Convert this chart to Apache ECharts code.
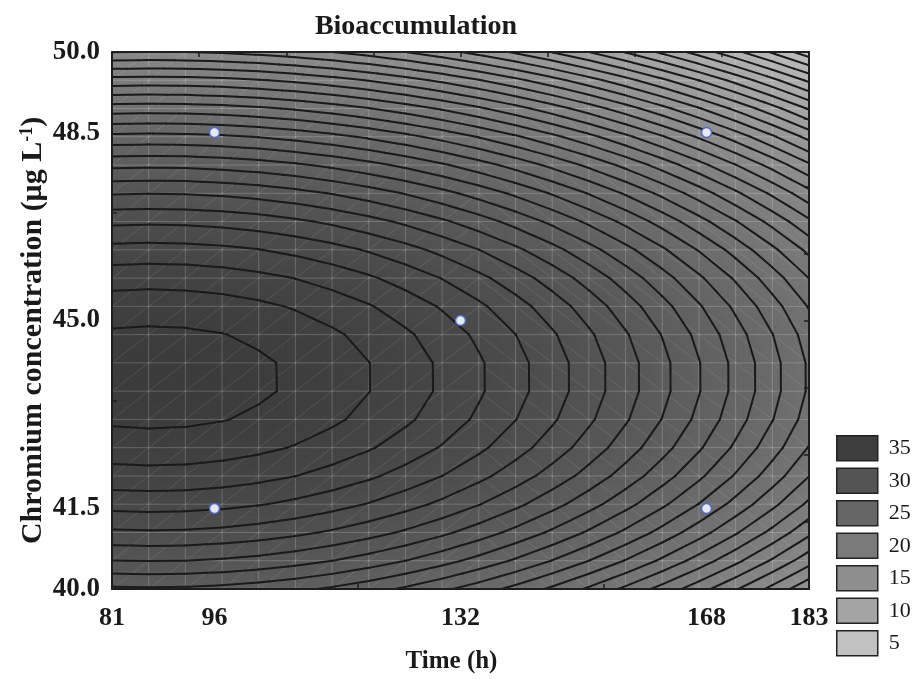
<!DOCTYPE html>
<html><head><meta charset="utf-8">
<script src="https://cdn.jsdelivr.net/npm/echarts@6/dist/echarts.min.js"></script>
<style>html,body{margin:0;padding:0;background:#fff}#chart{width:914px;height:679px}</style>
</head><body><div id="chart"></div>
<script>
// ---- data ----
const timeRange = [81, 183];
const concRange = [40, 50];
const xTickValues = [81, 96, 132, 168, 183];
const yTickValues = [40.0, 41.5, 45.0, 48.5, 50.0];
const xMinorStep = 36, yMinorStep = 3.5;
const designTime = [96, 96, 132, 168, 168];
const designConc = [41.5, 48.5, 45.0, 41.5, 48.5];
const legendLevels = ['35', '30', '25', '20', '15', '10', '5'];
const legendColors = ['#3e3e3e', '#545454', '#666666', '#7a7a7a', '#8e8e8e', '#a4a4a4', '#c2c2c2'];
// Fitted response surface: peak [time, conc, value]
// and squared distance (per axis) for one unit drop of the response.
const surfacePeak = [86.85, 43.94, 38.54];
const surfaceSpread = [677.9, 1.79];
const contourStep = 1;
const meshDivisions = 19;

function surface(t, c) {
  return surfacePeak[2] - (t - surfacePeak[0]) ** 2 / surfaceSpread[0] - (c - surfacePeak[1]) ** 2 / surfaceSpread[1];
}
function grayFor(z) {
  const g = Math.max(30, Math.min(225, Math.round(60 + (38.5 - z) * 3.8)));
  return 'rgb(' + g + ',' + g + ',' + g + ')';
}

// ---- build fill cells ----
const fillCells = [];
const NX = 140, NY = 108;
for (let i = 0; i < NX; i++) {
  const ta = timeRange[0] + i * (timeRange[1] - timeRange[0]) / NX;
  const tb = timeRange[0] + (i + 1) * (timeRange[1] - timeRange[0]) / NX;
  for (let j = 0; j < NY; j++) {
    const ca = concRange[0] + j * (concRange[1] - concRange[0]) / NY;
    const cb = concRange[0] + (j + 1) * (concRange[1] - concRange[0]) / NY;
    fillCells.push([ta, ca, tb, cb, surface((ta + tb) / 2, (ca + cb) / 2)]);
  }
}

// ---- mesh nodes, mesh lines, triangle contours ----
const N = meshDivisions;
const tNodes = [], cNodes = [];
for (let i = 0; i <= N; i++) {
  tNodes.push(timeRange[0] + i * (timeRange[1] - timeRange[0]) / N);
  cNodes.push(concRange[0] + i * (concRange[1] - concRange[0]) / N);
}
const meshLines = [];
for (let i = 1; i < N; i++) {
  meshLines.push([tNodes[i], concRange[0], tNodes[i], concRange[1], 0]);
  meshLines.push([timeRange[0], cNodes[i], timeRange[1], cNodes[i], 0]);
}
const triangles = [];
for (let i = 0; i < N; i++) {
  for (let j = 0; j < N; j++) {
    const BL = [tNodes[i], cNodes[j]], BR = [tNodes[i + 1], cNodes[j]];
    const TR = [tNodes[i + 1], cNodes[j + 1]], TL = [tNodes[i], cNodes[j + 1]];
    [BL, BR, TR, TL].forEach(p => p.push(surface(p[0], p[1])));
    if (i < 10) {
      triangles.push([BL, BR, TR], [BL, TR, TL]);
      meshLines.push([BL[0], BL[1], TR[0], TR[1], 1]);
    } else {
      triangles.push([BL, BR, TL], [BR, TR, TL]);
      meshLines.push([TL[0], TL[1], BR[0], BR[1], 1]);
    }
  }
}
const contourSegs = [];
for (let L = contourStep; L < surfacePeak[2]; L += contourStep) {
  triangles.forEach(P => {
    const pts = [];
    for (let k = 0; k < 3; k++) {
      const a = P[k], b = P[(k + 1) % 3];
      if ((a[2] - L) * (b[2] - L) < 0) {
        const f = (L - a[2]) / (b[2] - a[2]);
        pts.push([a[0] + f * (b[0] - a[0]), a[1] + f * (b[1] - a[1])]);
      }
    }
    if (pts.length === 2) contourSegs.push([pts[0][0], pts[0][1], pts[1][0], pts[1][1]]);
  });
}

const topTicks = [], rightTicks = [], bottomTicks = [], leftTicks = [];
for (let k = 1; k < 8; k++) {
  topTicks.push(timeRange[0] + k * (timeRange[1] - timeRange[0]) / 8);
  rightTicks.push(concRange[0] + k * (concRange[1] - concRange[0]) / 8);
}
for (let v = timeRange[0] + xMinorStep; v < timeRange[1]; v += xMinorStep) bottomTicks.push(v);
for (let v = concRange[0] + yMinorStep; v < concRange[1]; v += yMinorStep) leftTicks.push(v);

const serif = 'Liberation Serif';
const ink = '#1e1e1e';
const lineItem = (stroke, width) => (params, api) => {
  const a = api.coord([api.value(0), api.value(1)]);
  const b = api.coord([api.value(2), api.value(3)]);
  return { type: 'line', shape: { x1: a[0], y1: a[1], x2: b[0], y2: b[1] },
    style: { stroke: typeof stroke === 'function' ? stroke(api) : stroke, lineWidth: typeof width === 'function' ? width(api) : width, lineCap: 'round' }, silent: true };
};

const chart = echarts.init(document.getElementById('chart'), null, { renderer: 'canvas' });
chart.setOption({
  animation: false,
  backgroundColor: '#fff',
  title: { text: 'Bioaccumulation', left: 411, top: 8, textAlign: 'center',
    textStyle: { fontFamily: serif, fontWeight: 'bold', fontSize: 28, color: '#1a1a1a' } },
  legend: { orient: 'vertical', left: 831, top: 430, itemWidth: 41, itemHeight: 25, itemGap: 6,
    icon: 'rect', selectedMode: false, data: legendLevels,
    itemStyle: { borderColor: '#222', borderWidth: 1.5, opacity: 1 },
    textStyle: { fontFamily: serif, fontSize: 22, lineHeight: 25, color: '#1a1a1a', padding: [0, 0, 0, 6] } },
  grid: { left: 112, top: 52, width: 697, height: 541, containLabel: false },
  xAxis: [
    { type: 'value', min: timeRange[0], max: timeRange[1], position: 'bottom', z: 10,
      axisLine: { show: true, onZero: false, lineStyle: { color: ink, width: 2 } },
      axisTick: { show: true, inside: true, length: 5, customValues: bottomTicks, lineStyle: { color: ink, width: 1.5 } },
      splitLine: { show: false },
      axisLabel: { customValues: xTickValues, fontFamily: serif, fontWeight: 'bold', fontSize: 26, color: '#1a1a1a', margin: 16 },
      name: 'Time (h)', nameLocation: 'middle', nameGap: 60, nameMoveOverlap: false,
      nameTextStyle: { fontFamily: serif, fontWeight: 'bold', fontSize: 25, color: '#1a1a1a', padding: [0, 18, 0, 0] } },
    { type: 'value', min: timeRange[0], max: timeRange[1], position: 'top', z: 10,
      axisLine: { show: true, onZero: false, lineStyle: { color: ink, width: 2 } },
      axisTick: { show: true, inside: true, length: 5, customValues: topTicks, lineStyle: { color: ink, width: 1.5 } },
      axisLabel: { show: false }, splitLine: { show: false } }
  ],
  yAxis: [
    { type: 'value', min: concRange[0], max: concRange[1], position: 'left', z: 10,
      axisLine: { show: true, onZero: false, lineStyle: { color: ink, width: 2 } },
      axisTick: { show: true, inside: true, length: 5, customValues: leftTicks, lineStyle: { color: ink, width: 1.5 } },
      splitLine: { show: false },
      axisLabel: { customValues: yTickValues, formatter: v => v.toFixed(1), fontFamily: serif, fontWeight: 'bold', fontSize: 27, color: '#1a1a1a', margin: 12 },
      name: 'Chromium concentration (μg L{sup|-1})', nameLocation: 'middle', nameGap: 64, nameRotate: 90, nameMoveOverlap: false,
      nameTextStyle: { fontFamily: serif, fontWeight: 'bold', fontSize: 30, color: '#1a1a1a', padding: [0, 20, 0, 0],
        rich: { sup: { fontFamily: serif, fontWeight: 'bold', fontSize: 18, verticalAlign: 'top', color: '#1a1a1a' } } } },
    { type: 'value', min: concRange[0], max: concRange[1], position: 'right', z: 10,
      axisLine: { show: true, onZero: false, lineStyle: { color: ink, width: 2 } },
      axisTick: { show: true, inside: true, length: 5, customValues: rightTicks, lineStyle: { color: ink, width: 1.5 } },
      axisLabel: { show: false }, splitLine: { show: false } }
  ],
  series: [
    { type: 'custom', name: 'fill', z: 1, progressive: 0, clip: true, silent: true,
      encode: { x: [0, 2], y: [1, 3] }, data: fillCells,
      renderItem: (params, api) => {
        const a = api.coord([api.value(0), api.value(3)]);
        const b = api.coord([api.value(2), api.value(1)]);
        return { type: 'rect', shape: { x: a[0] - 0.5, y: a[1] - 0.5, width: b[0] - a[0] + 1, height: b[1] - a[1] + 1 },
          style: { fill: grayFor(api.value(4)) }, silent: true };
      } },
    { type: 'custom', name: 'mesh', z: 2, progressive: 0, clip: true, silent: true,
      encode: { x: [0, 2], y: [1, 3] }, data: meshLines,
      renderItem: lineItem(api => api.value(4) ? 'rgba(255,255,255,0.13)' : 'rgba(255,255,255,0.2)', api => api.value(4) ? 0.8 : 1) },
    { type: 'custom', name: 'contours', z: 3, progressive: 0, clip: true, silent: true,
      encode: { x: [0, 2], y: [1, 3] }, data: contourSegs,
      renderItem: lineItem('#1a1a1a', 2) },
    { type: 'scatter', name: 'design', z: 5, symbol: 'circle', symbolSize: 10,
      itemStyle: { color: '#e4e8f4', borderColor: '#5468c4', borderWidth: 1.5, opacity: 1 },
      data: designTime.map((t, i) => [t, designConc[i]]) },
    ...legendLevels.map((n, i) => ({ type: 'scatter', name: n, data: [],
      itemStyle: { color: legendColors[i], borderColor: '#222', borderWidth: 1.5, opacity: 1 } }))
  ]
});
</script></body></html>
